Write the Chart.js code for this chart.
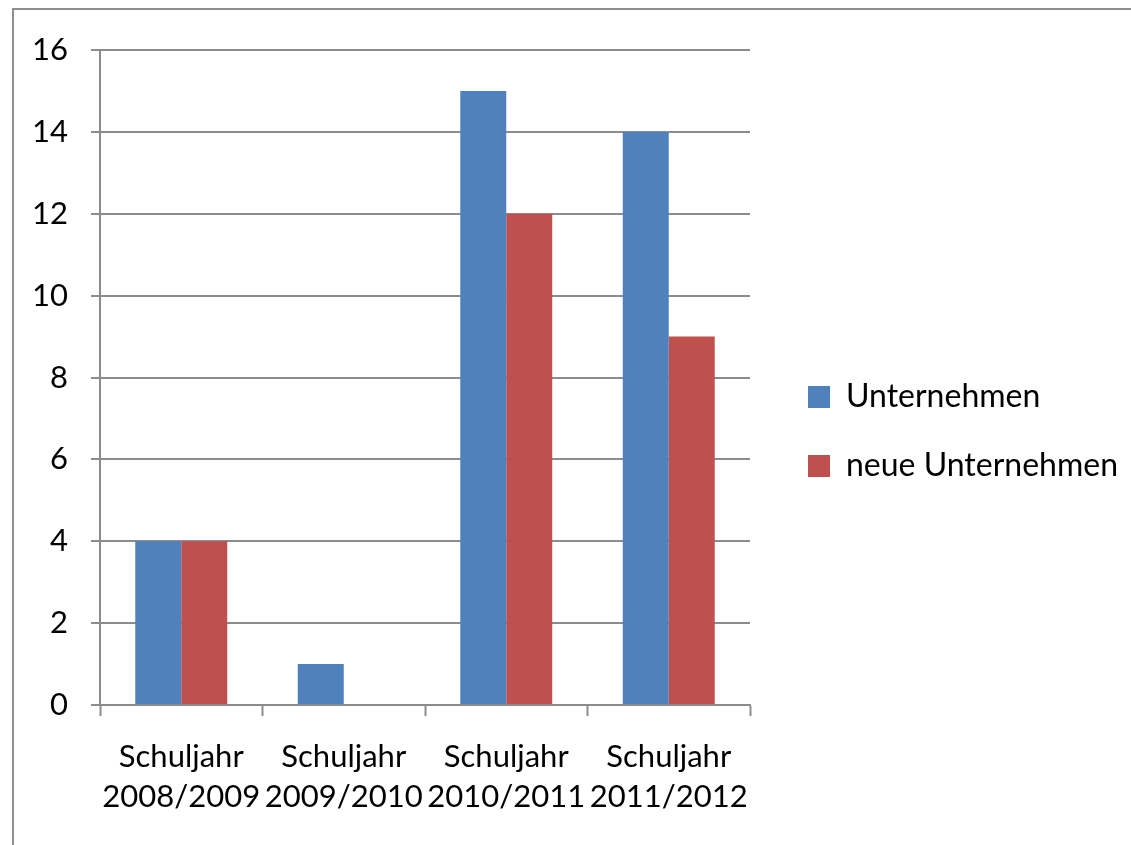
<!DOCTYPE html>
<html>
<head>
<meta charset="utf-8">
<script src="https://cdn.jsdelivr.net/npm/chart.js@4.4.1/dist/chart.umd.min.js"></script>
<style>
  html, body { margin: 0; padding: 0; background: #fff; }
  #wrap { position: relative; width: 1131px; height: 845px; }
</style>
</head>
<body>
<div id="wrap"><canvas id="myChart" width="1131" height="845"></canvas></div>
<script>
// Chart data
const schuljahre = [
  ["Schuljahr", "2008/2009"],
  ["Schuljahr", "2009/2010"],
  ["Schuljahr", "2010/2011"],
  ["Schuljahr", "2011/2012"],
];
const unternehmen = [4, 1, 15, 14];
const neueUnternehmen = [4, 0, 12, 9];
const yTicks = [0, 2, 4, 6, 8, 10, 12, 14, 16];

const gridGrey = "#8c8c8c";
const tickFont = { family: "Lato, 'Open Sans', sans-serif", size: 31 };
const legendFont = { family: "Lato, 'Open Sans', sans-serif", size: 32 };

// Gray frame round the chart (right and bottom run off the page)
// and a fixed-width legend column on the right
const framePlugin = {
  id: "frame",
  beforeInit(chart) {
    const fit = chart.legend.fit;
    chart.legend.fit = function () {
      fit.call(this);
      this.width = 381;
    };
  },
  afterLayout(chart) {
    // push the legend items a bit away from the plot
    chart.legend.left += 21;
    chart.legend.right += 21;
  },
  beforeDraw(chart) {
    const c = chart.ctx;
    c.save();
    c.strokeStyle = "#8f8f8f";
    c.lineWidth = 2;
    c.strokeRect(13, 9, 1140, 860);
    c.restore();
  },
};

const ctx = document.getElementById("myChart");

new Chart(ctx, {
  type: "bar",
  data: {
    labels: schuljahre,
    datasets: [
      {
        label: "Unternehmen",
        data: unternehmen,
        backgroundColor: "#4f81bd",
        borderWidth: 0,
      },
      {
        label: "neue Unternehmen",
        data: neueUnternehmen,
        backgroundColor: "#c0504d",
        borderWidth: 0,
      },
    ],
  },
  plugins: [framePlugin],
  options: {
    responsive: false,
    animation: false,
    layout: {
      padding: { top: 50, bottom: 32, left: 0, right: 0 },
    },
    datasets: {
      bar: { categoryPercentage: 0.566, barPercentage: 1 },
    },
    plugins: {
      tooltip: { enabled: false },
      legend: {
        position: "right",
        align: "center",
        labels: {
          boxWidth: 22,
          boxHeight: 22,
          padding: 37,
          color: "#000",
          font: legendFont,
        },
      },
    },
    scales: {
      x: {
        afterFit(scale) {
          scale.height = 108;
        },
        grid: {
          drawOnChartArea: false,
          tickLength: 11,
          tickWidth: 2,
          color: gridGrey,
        },
        border: { color: gridGrey, width: 2 },
        ticks: {
          color: "#000",
          padding: 21,
          maxRotation: 0,
          font: { ...tickFont, lineHeight: 1.3 },
        },
      },
      y: {
        min: 0,
        max: 16,
        afterFit(scale) {
          scale.width = 100;
        },
        afterBuildTicks(scale) {
          scale.ticks = yTicks.map((v) => ({ value: v }));
        },
        grid: {
          color: gridGrey,
          lineWidth: 2,
          tickLength: 9,
        },
        border: { color: gridGrey, width: 2 },
        ticks: {
          color: "#000",
          padding: 23,
          font: tickFont,
        },
      },
    },
  },
});
</script>
</body>
</html>
